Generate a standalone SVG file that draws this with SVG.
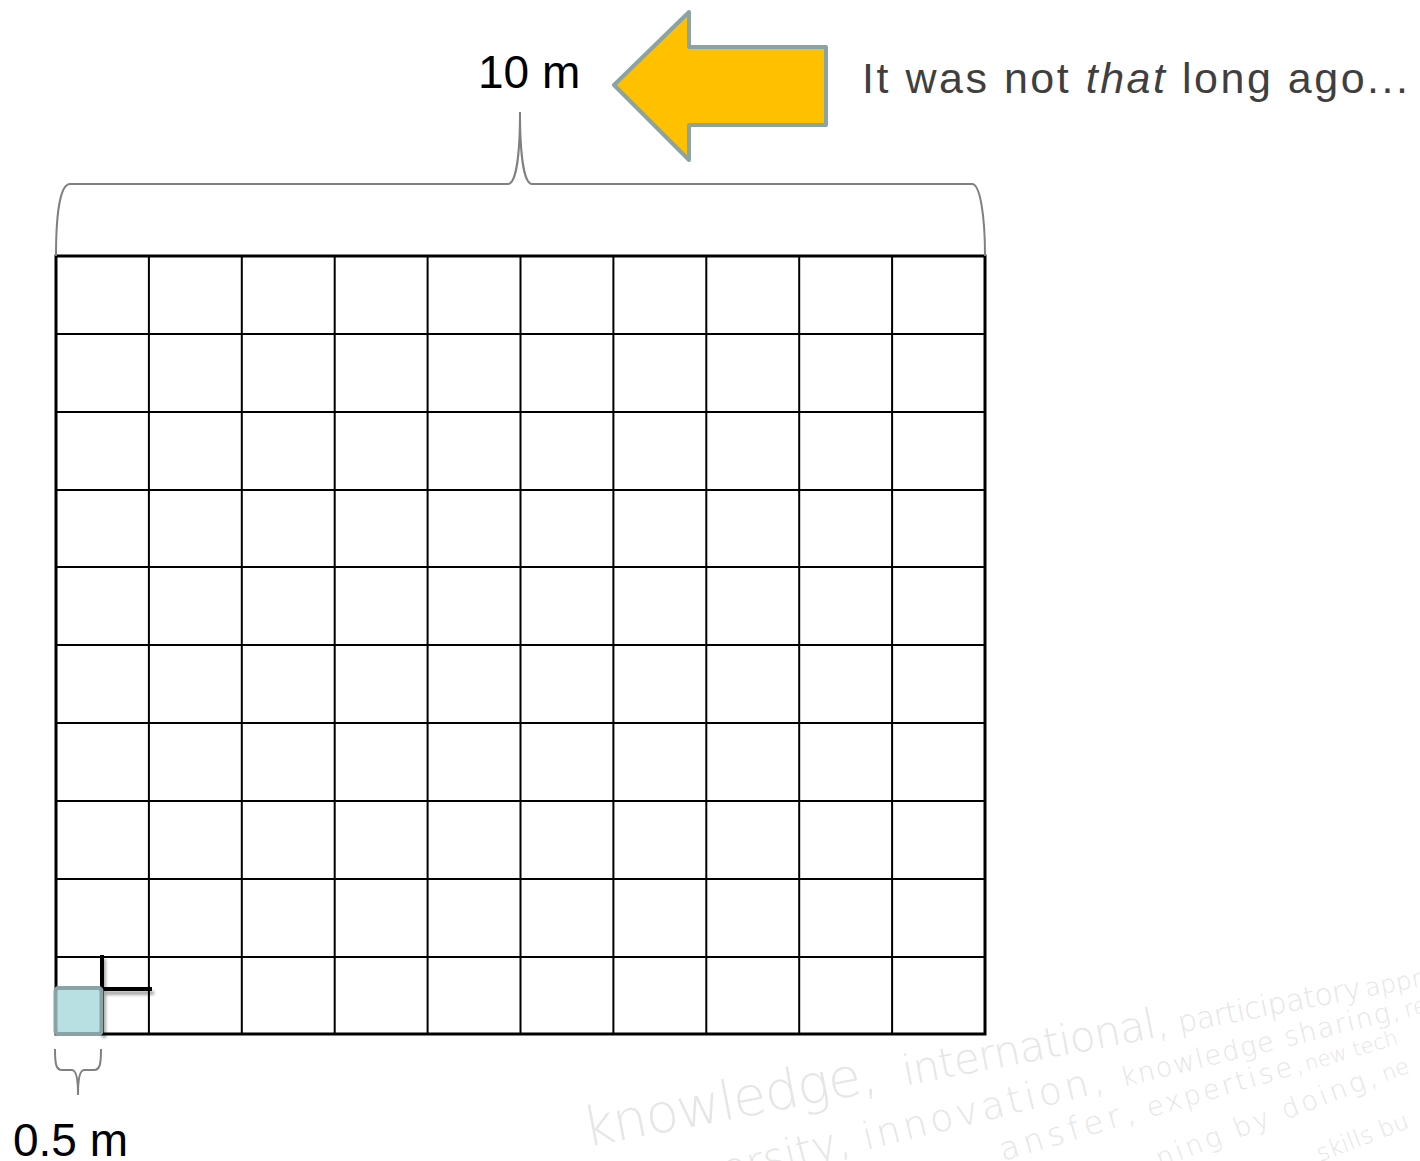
<svg xmlns="http://www.w3.org/2000/svg" width="1420" height="1161" viewBox="0 0 1420 1161">
<defs>
<style>
.grid{stroke:#000;stroke-width:2;fill:none}
.outer{stroke:#000;stroke-width:3;fill:none}
.brace{stroke:#808080;stroke-width:2;fill:none}
.lbl{font-family:"Liberation Sans",Arial,sans-serif;fill:#000}
.wm{font-family:"DejaVu Sans","Open Sans",sans-serif;font-weight:200;fill:#e6e6e6}
</style>
<filter id="sh" x="-30%" y="-30%" width="160%" height="160%">
<feGaussianBlur in="SourceAlpha" stdDeviation="1.5"/>
<feOffset dx="2" dy="4" result="b"/>
<feComponentTransfer><feFuncA type="linear" slope="0.35"/></feComponentTransfer>
<feMerge><feMergeNode/><feMergeNode in="SourceGraphic"/></feMerge>
</filter>
</defs>
<rect width="1420" height="1161" fill="#fff"/>

<g id="watermark">
<text class="wm" transform="translate(587,1147) rotate(-10.9)"><tspan x="0" font-size="54" textLength="298" lengthAdjust="spacing">knowledge,</tspan><tspan x="324" font-size="42" textLength="270" lengthAdjust="spacing">international,</tspan><tspan x="604" font-size="30" textLength="186" lengthAdjust="spacing">participatory</tspan><tspan x="794" font-size="25">appro</tspan></text>
<text class="wm" transform="translate(866,1150) rotate(-13.8)"><tspan x="-14" text-anchor="end" font-size="42">ersity,</tspan><tspan x="0" font-size="38" textLength="247" lengthAdjust="spacing">innovation,</tspan><tspan x="265" font-size="27" textLength="286" lengthAdjust="spacing">knowledge sharing,</tspan><tspan x="556" font-size="23">re</tspan></text>
<text class="wm" transform="translate(1003,1161) rotate(-16.5)"><tspan x="0" font-size="32" textLength="140" lengthAdjust="spacing">ansfer,</tspan><tspan x="153" font-size="27" textLength="162" lengthAdjust="spacing">expertise,</tspan><tspan x="317" font-size="21">new tech</tspan></text>
<text class="wm" transform="translate(1160,1168) rotate(-21)"><tspan x="0" font-size="27" textLength="234" lengthAdjust="spacing">ning by doing,</tspan><tspan x="241" font-size="22">ne</tspan></text>
<text class="wm" transform="translate(1320,1162) rotate(-21)" font-size="24">skills bu</text>
</g>

<g id="grid">
<rect class="outer" x="56" y="256" width="929" height="778"/>
<path class="grid" d="M148.9,256V1034M241.8,256V1034M334.7,256V1034M427.6,256V1034M520.5,256V1034M613.4,256V1034M706.3,256V1034M799.2,256V1034M892.1,256V1034"/>
<path class="grid" d="M56,334H985M56,412H985M56,490H985M56,567H985M56,645H985M56,723H985M56,801H985M56,879H985M56,957H985"/>
</g>

<g id="connectors">
<path id="brace-top" class="brace" d="M56,256 C56,215 60,184 70,184 L508,184 C515,184 520,160 520,112 C520,160 525,184 532,184 L972,184 C980,184 985,215 985,256"/>
<path id="brace-bottom" class="brace" d="M55,1049 C55,1064 56,1070 62,1070 L72,1070 C76,1070 78,1078 78,1095 C78,1078 80,1070 84,1070 L94,1070 C100,1070 101,1064 101,1049"/>
</g>

<g id="corner-mark" filter="url(#sh)">
<path d="M102,955V1034M102,989H152" stroke="#000" stroke-width="4" fill="none"/>
</g>

<g id="small-square">
<rect x="55.5" y="988" width="46" height="46" rx="3" fill="#b8dfe2" stroke="#8aa3a3" stroke-width="4"/>
</g>

<g id="arrow">
<polygon points="614,85 689,12 689,47 826,47 826,125 689,125 689,160" fill="#ffc000" stroke="#8aa3a3" stroke-width="4" stroke-linejoin="round"/>
</g>

<g id="label-10m"><text class="lbl" x="478" y="88" font-size="46">10 m</text></g>
<g id="label-05m"><text class="lbl" x="13" y="1156" font-size="46">0.5 m</text></g>
<g id="caption"><text x="862" y="93" font-size="43" fill="#3f3f3f" font-family="'Liberation Sans',Arial,sans-serif" textLength="546" lengthAdjust="spacing">It was not <tspan font-style="italic">that</tspan> long ago...</text></g>
</svg>
